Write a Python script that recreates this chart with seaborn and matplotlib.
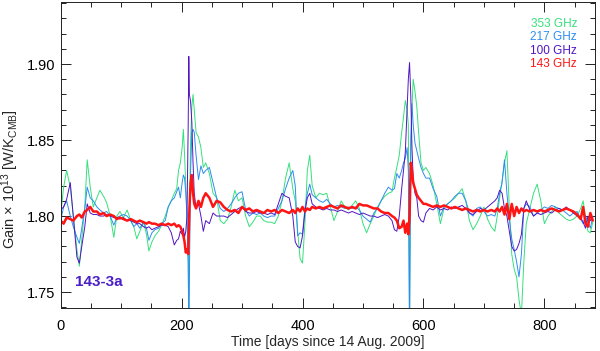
import seaborn as sns
import matplotlib
matplotlib.use("Agg")
import matplotlib.pyplot as plt
from matplotlib.ticker import MultipleLocator

# 时间轴 (days since 14 Aug 2009)
days = [
    0, 5, 10, 16, 21, 27, 31, 35, 40, 44, 49, 54, 60, 65, 71, 76, 82, 88, 93, 98,
    104, 110, 116, 121, 126, 131, 137, 142, 146, 151, 156, 162, 167, 173, 178, 183, 188, 192,
    195, 198, 201, 203, 205, 207, 209, 211, 212, 213, 215, 217, 219, 221, 224, 228, 232, 236, 240,
    246, 252, 258, 264, 270, 276, 282, 288, 294, 300, 306, 312, 318, 324, 330, 336, 342, 348,
    354, 360, 366, 372, 378, 384, 388, 392, 396, 400, 404, 408, 412, 416,
    422, 428, 434, 440, 446, 452, 458, 464, 470, 476, 482, 488, 494, 500, 506, 512, 518, 524,
    530, 536, 542, 548,
    552, 556, 560, 564, 567, 570, 573, 575, 577, 579, 581, 583, 586, 589, 592, 596, 600, 604,
    610, 616, 622, 628, 634, 640, 646, 652, 658, 664, 670, 676, 682, 688, 694, 700, 706, 712, 718,
    722, 726, 730, 734, 738, 742, 746, 750, 754, 758, 762, 766, 770,
    776, 782, 788, 794, 800, 806, 812, 818, 824, 830, 836, 842, 848, 854, 860,
    864, 868, 872, 876, 880,
]

gain_353 = [
    1.800, 1.819, 1.830, 1.819, 1.800, 1.778, 1.767, 1.785, 1.806, 1.837,
    1.819, 1.806, 1.812, 1.817, 1.813, 1.809, 1.800, 1.786, 1.800, 1.803,
    1.799, 1.804, 1.797, 1.793, 1.785, 1.790, 1.796, 1.788, 1.777, 1.783,
    1.787, 1.790, 1.794, 1.800, 1.806, 1.810, 1.815, 1.818,
    1.830, 1.835, 1.845, 1.857, 1.840, 1.820, 1.800, 1.770, 1.730, 1.800,
    1.850, 1.872, 1.880, 1.870, 1.855, 1.852, 1.845, 1.832, 1.835,
    1.828, 1.815, 1.812, 1.797, 1.795, 1.798, 1.806, 1.817, 1.810, 1.812,
    1.800, 1.793, 1.796, 1.800, 1.800, 1.797, 1.796, 1.796, 1.795, 1.800,
    1.810, 1.825, 1.835, 1.818,
    1.810, 1.790, 1.772, 1.769, 1.795, 1.830, 1.840, 1.820,
    1.812, 1.815, 1.814, 1.815, 1.806, 1.797, 1.803, 1.810, 1.806, 1.804,
    1.807, 1.810, 1.805, 1.795, 1.789, 1.795, 1.800, 1.806, 1.810, 1.813,
    1.815, 1.816,
    1.825, 1.832, 1.840, 1.855, 1.865, 1.876, 1.870, 1.860, 1.730, 1.840,
    1.870, 1.890, 1.882, 1.872, 1.855, 1.835, 1.830, 1.832,
    1.828, 1.820, 1.808, 1.795, 1.805, 1.808, 1.810, 1.812, 1.815, 1.818,
    1.810, 1.797, 1.791, 1.795, 1.800, 1.806, 1.798, 1.793, 1.790,
    1.800, 1.812, 1.823, 1.835, 1.843, 1.805, 1.775, 1.765, 1.760, 1.745,
    1.735, 1.770, 1.795,
    1.805, 1.815, 1.821, 1.810, 1.795, 1.800, 1.803, 1.806, 1.802, 1.800,
    1.798, 1.797, 1.798, 1.800, 1.805,
    1.810, 1.800, 1.790, 1.789, 1.796,
]

gain_217 = [
    1.797, 1.806, 1.810, 1.800, 1.793, 1.786, 1.782, 1.792, 1.805, 1.819,
    1.812, 1.810, 1.806, 1.804, 1.802, 1.803, 1.800, 1.794, 1.799, 1.800,
    1.801, 1.800, 1.797, 1.793, 1.795, 1.792, 1.796, 1.792, 1.784, 1.789,
    1.791, 1.792, 1.795, 1.797, 1.806, 1.810, 1.812, 1.816,
    1.819, 1.812, 1.822, 1.827, 1.825, 1.815, 1.800, 1.770, 1.720, 1.760,
    1.830, 1.855, 1.857, 1.855, 1.840, 1.824, 1.833, 1.828, 1.830,
    1.832, 1.822, 1.812, 1.805, 1.803, 1.805, 1.808, 1.812, 1.815, 1.816,
    1.804, 1.800, 1.802, 1.801, 1.802, 1.800, 1.799, 1.800, 1.800, 1.805,
    1.810, 1.818, 1.825, 1.830,
    1.820, 1.787, 1.789, 1.788, 1.805, 1.815, 1.821, 1.814,
    1.812, 1.810, 1.809, 1.811, 1.808, 1.806, 1.807, 1.806, 1.805, 1.806,
    1.805, 1.806, 1.804, 1.800, 1.798, 1.796, 1.802, 1.805, 1.810, 1.815,
    1.819, 1.817,
    1.818, 1.828, 1.825, 1.830, 1.835, 1.838, 1.845, 1.830, 1.720, 1.850,
    1.874, 1.860, 1.848, 1.843, 1.838, 1.832, 1.828, 1.825,
    1.825, 1.818, 1.813, 1.800, 1.806, 1.808, 1.810, 1.813, 1.815, 1.815,
    1.810, 1.802, 1.800, 1.805, 1.806, 1.803, 1.800, 1.801, 1.800,
    1.805, 1.815, 1.822, 1.837, 1.815, 1.798, 1.785, 1.778, 1.770, 1.760,
    1.775, 1.805, 1.808,
    1.806, 1.800, 1.802, 1.804, 1.806, 1.805, 1.807, 1.806, 1.805, 1.804,
    1.802, 1.800, 1.802, 1.803, 1.798,
    1.795, 1.800, 1.796, 1.792, 1.800,
]

gain_100 = [
    1.804, 1.806, 1.811, 1.822, 1.800, 1.773, 1.769, 1.780, 1.793, 1.808,
    1.802, 1.801, 1.801, 1.800, 1.800, 1.801, 1.800, 1.799, 1.799, 1.798,
    1.799, 1.797, 1.797, 1.796, 1.795, 1.795, 1.793, 1.792, 1.793, 1.791,
    1.792, 1.793, 1.794, 1.794, 1.793, 1.789, 1.781, 1.784,
    1.785, 1.790, 1.788, 1.792, 1.786, 1.790, 1.800, 1.860, 1.905, 1.880,
    1.875, 1.862, 1.835, 1.815, 1.805, 1.808, 1.800, 1.790, 1.797,
    1.795, 1.802, 1.800, 1.800, 1.800, 1.799, 1.801, 1.803, 1.805, 1.806,
    1.803, 1.802, 1.802, 1.803, 1.802, 1.802, 1.801, 1.802, 1.801, 1.808,
    1.815, 1.813, 1.812, 1.800,
    1.783, 1.780, 1.779, 1.787, 1.803, 1.812, 1.815, 1.808,
    1.806, 1.805, 1.804, 1.805, 1.804, 1.804, 1.803, 1.804, 1.803, 1.802,
    1.803, 1.802, 1.801, 1.802, 1.801, 1.800, 1.800, 1.799, 1.800, 1.801,
    1.800, 1.797,
    1.791, 1.790, 1.800, 1.818, 1.830, 1.842, 1.870, 1.890, 1.901, 1.880,
    1.845, 1.825, 1.815, 1.812, 1.800, 1.797, 1.796, 1.802,
    1.805, 1.804, 1.806, 1.804, 1.805, 1.804, 1.806, 1.805, 1.806, 1.807,
    1.805, 1.802, 1.801, 1.803, 1.805, 1.804, 1.806, 1.808, 1.810,
    1.812, 1.817, 1.815, 1.805, 1.800, 1.790, 1.780, 1.777, 1.778, 1.782,
    1.788, 1.805, 1.810,
    1.804, 1.800, 1.802, 1.801, 1.802, 1.803, 1.802, 1.804, 1.805, 1.804,
    1.806, 1.804, 1.802, 1.800, 1.799,
    1.796, 1.792, 1.800, 1.797, 1.799,
]

gain_143 = [
    1.797, 1.795, 1.799, 1.798, 1.797, 1.800, 1.801, 1.799, 1.803, 1.804,
    1.806, 1.803, 1.803, 1.801, 1.802, 1.800, 1.801, 1.800, 1.798, 1.799,
    1.798, 1.797, 1.798, 1.797, 1.796, 1.797, 1.796, 1.795, 1.796, 1.795,
    1.795, 1.794, 1.795, 1.794, 1.795, 1.794, 1.795, 1.793,
    1.794, 1.793, 1.790, 1.787, 1.783, 1.776, 1.778, 1.775, 1.790, 1.805,
    1.822, 1.827, 1.815, 1.808, 1.805, 1.810, 1.806, 1.812, 1.815,
    1.812, 1.806, 1.810, 1.809, 1.806, 1.804, 1.803, 1.804, 1.802, 1.806,
    1.804, 1.805, 1.803, 1.804, 1.803, 1.802, 1.804, 1.803, 1.804, 1.802,
    1.804, 1.803, 1.802, 1.804,
    1.802, 1.805, 1.803, 1.806, 1.803, 1.805, 1.804, 1.806,
    1.805, 1.806, 1.805, 1.806, 1.807, 1.806, 1.805, 1.807, 1.806, 1.805,
    1.806, 1.805, 1.808, 1.807, 1.807, 1.806, 1.805, 1.805, 1.803, 1.802,
    1.802, 1.800,
    1.799, 1.797, 1.792, 1.793, 1.797, 1.789, 1.795, 1.788, 1.800, 1.835,
    1.830, 1.822, 1.818, 1.814, 1.812, 1.810, 1.808, 1.808,
    1.807, 1.806, 1.807, 1.806, 1.807, 1.806, 1.805, 1.806, 1.805, 1.804,
    1.805, 1.804, 1.803, 1.804, 1.803, 1.804, 1.803, 1.804, 1.803,
    1.805, 1.803, 1.806, 1.801, 1.808, 1.798, 1.808, 1.800, 1.806, 1.802,
    1.805, 1.803, 1.804,
    1.803, 1.804, 1.803, 1.804, 1.803, 1.804, 1.805, 1.804, 1.803, 1.804,
    1.805, 1.804, 1.803, 1.801, 1.798,
    1.806, 1.795, 1.793, 1.802, 1.797,
]

labels = ["353 GHz", "217 GHz", "100 GHz", "143 GHz"]
colors = ["#35e07c", "#2e8cf0", "#5214c4", "#ff1414"]
series = [gain_353, gain_217, gain_100, gain_143]
widths = [0.7, 0.7, 0.7, 1.8]

sns.set_style("ticks")
plt.rcParams["font.family"] = ["Liberation Sans", "DejaVu Sans"]
plt.rcParams["mathtext.default"] = "regular"

fig = plt.figure(figsize=(6, 3.51), dpi=100)
ax = fig.add_axes([0.101, 0.1225, 0.891, 0.8725])

for y, c, lw in zip(series, colors, widths):
    sns.lineplot(x=days, y=y, color=c, linewidth=lw, estimator=None, ax=ax)

ax.set_xlim(0, 884)
ax.set_ylim(1.7395, 1.941)
ax.xaxis.set_major_locator(MultipleLocator(200))
ax.xaxis.set_minor_locator(MultipleLocator(50))
ax.yaxis.set_major_locator(MultipleLocator(0.05))
ax.yaxis.set_minor_locator(MultipleLocator(0.01))
ax.tick_params(which="both", direction="in", top=True, right=True, width=0.7, colors="#222222",
               labelsize=10.5, labelcolor="black")
ax.tick_params(which="major", length=7)
ax.tick_params(which="minor", length=3.5)
ax.tick_params(axis="y", which="major", pad=4)
ax.tick_params(axis="x", which="major", pad=8)
for s in ax.spines.values():
    s.set_linewidth(0.7)
    s.set_color("#222222")

ax.set_xlabel("Time [days since 14 Aug. 2009]", fontsize=10, labelpad=1)
ax.set_ylabel("Gain × 10$^{13}$ [W/K$_{CMB}$]", fontsize=10.5)
ax.yaxis.set_label_coords(-0.074, 0.42)

ypos = [0.927, 0.885, 0.839, 0.797]
for lab, c, yp in zip(labels, colors, ypos):
    ax.text(0.966, yp, lab, color=c, fontsize=8.5, ha="right", va="center", transform=ax.transAxes)

ax.text(0.027, 0.085, "143-3a", color="#4a1ec8", fontsize=11, fontweight="bold",
        ha="left", va="center", transform=ax.transAxes)

fig.savefig("out.png", dpi=100)
